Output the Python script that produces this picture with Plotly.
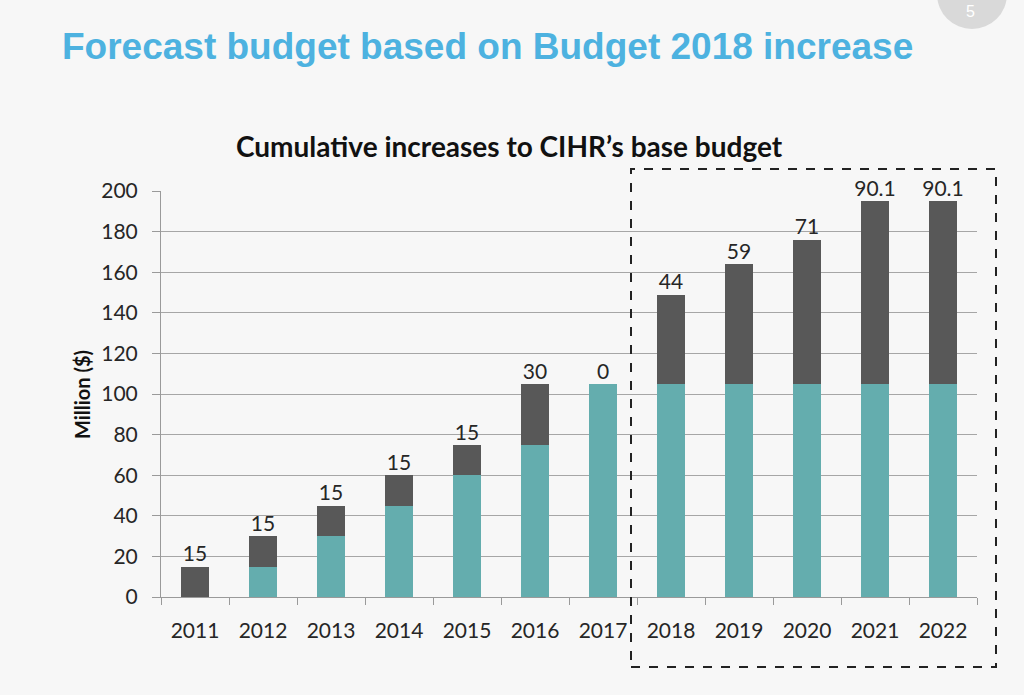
import plotly.graph_objects as go

# values (million $)
years = ['2011', '2012', '2013', '2014', '2015', '2016', '2017',
         '2018', '2019', '2020', '2021', '2022']
base_budget = [0, 15, 30, 45, 60, 75, 105, 105, 105, 105, 105, 105]
increase = [15, 15, 15, 15, 15, 30, 0, 44, 59, 71, 90.1, 90.1]
increase_labels = ['15', '15', '15', '15', '15', '30', '0',
                   '44', '59', '71', '90.1', '90.1']
y_ticks = [0, 20, 40, 60, 80, 100, 120, 140, 160, 180, 200]

TEAL = '#64adae'
DARK = '#585858'
BG = '#f7f7f7'
TICK_FONT = dict(family='Lato', size=21, color='#262626')

totals = [b + i for b, i in zip(base_budget, increase)]

fig = go.Figure()
fig.add_trace(go.Bar(x=years, y=base_budget, marker_color=TEAL,
                     marker_line_width=0, name='Base'))
fig.add_trace(go.Bar(x=years, y=increase, marker_color=DARK,
                     marker_line_width=0, name='Increase'))
fig.add_trace(go.Scatter(x=years, y=totals, mode='text',
                         text=increase_labels, textposition='top center',
                         textfont=TICK_FONT, hoverinfo='skip',
                         cliponaxis=False))

fig.update_layout(
    width=1024,
    height=695,
    barmode='stack',
    bargap=0.6,
    showlegend=False,
    paper_bgcolor=BG,
    plot_bgcolor=BG,
    margin=dict(l=161, r=47, t=191, b=98),
    title=dict(
        text='<b>Forecast budget based on Budget 2018 increase</b>',
        font=dict(family='Liberation Sans', size=37, color='#4db2e0'),
        xref='container', x=62 / 1024, xanchor='left',
        yref='container', y=1 - 46 / 695, yanchor='middle',
    ),
)

fig.update_xaxes(
    type='category',
    range=[-0.5, len(years) - 0.5],
    showline=True, linecolor='#9a9a9a', linewidth=1,
    ticks='outside', tickson='boundaries', ticklen=7, tickcolor='#9a9a9a',
    tickfont=TICK_FONT, ticklabelstandoff=15,
    showgrid=False,
)
fig.update_yaxes(
    range=[0, 200], tickvals=y_ticks,
    showline=True, linecolor='#9a9a9a', linewidth=1,
    ticks='outside', ticklen=8, tickcolor='#9a9a9a',
    showgrid=True, gridcolor='#a6a6a6', gridwidth=1,
    zeroline=False,
    tickfont=TICK_FONT, ticklabelstandoff=10,
)

# chart title and axis title
fig.add_annotation(text='<b>Cumulative increases to CIHR’s base budget</b>',
                   xref='paper', yref='paper', x=(509 - 161) / 816,
                   y=(597 - 146) / 406, xanchor='center', yanchor='middle',
                   showarrow=False,
                   font=dict(family='Lato', size=28, color='#111111'))
fig.add_annotation(text='<b>Million ($)</b>', textangle=-90,
                   xref='paper', yref='paper', x=(82 - 161) / 816,
                   y=(597 - 395) / 406, xanchor='center', yanchor='middle',
                   showarrow=False,
                   font=dict(family='Lato', size=20, color='#111111'))

# dashed box around the forecast years
fig.add_shape(type='rect', xref='paper', yref='paper',
              x0=(631 - 161) / 816, x1=(996 - 161) / 816,
              y0=(597 - 667) / 406, y1=(597 - 169) / 406,
              line=dict(color='#222222', width=2, dash='dash'))

# slide number badge at the top right
fig.add_shape(type='circle', xref='paper', yref='paper',
              x0=(937 - 161) / 816, x1=(1007 - 161) / 816,
              y0=(597 - 29) / 406, y1=(597 + 41) / 406,
              fillcolor='#d9d9d9', line_width=0, layer='below')
fig.add_annotation(text='5', xref='paper', yref='paper',
                   x=(970 - 161) / 816, y=(597 - 11) / 406,
                   xanchor='center', yanchor='middle', showarrow=False,
                   font=dict(family='Liberation Sans', size=16, color='white'))

# the slide fills the whole window, no page margin
fig.write_html('out.html', config={'displayModeBar': False},
               post_script="document.body.style.margin='0';")
